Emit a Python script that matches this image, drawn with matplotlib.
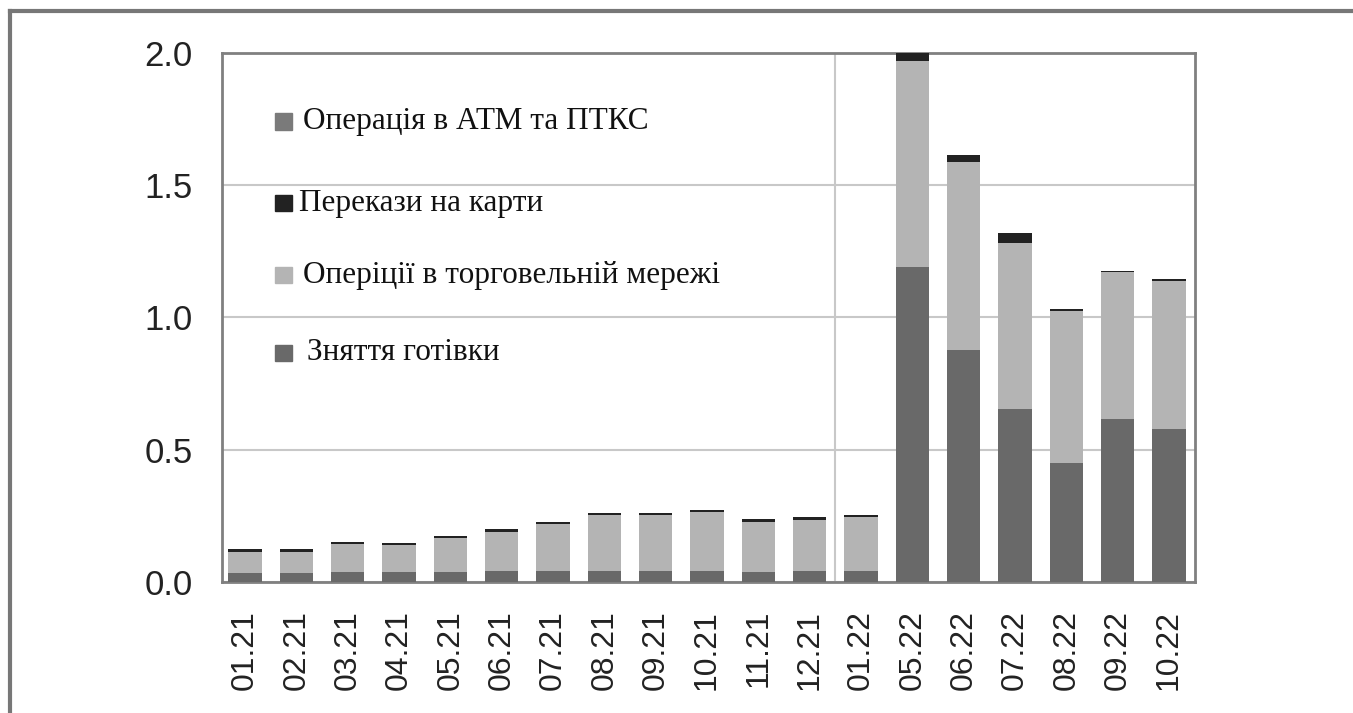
import matplotlib.pyplot as plt
from matplotlib.patches import Rectangle
from matplotlib.lines import Line2D
import numpy as np

months = ['01.21', '02.21', '03.21', '04.21', '05.21', '06.21', '07.21', '08.21', '09.21',
          '10.21', '11.21', '12.21', '01.22', '05.22', '06.22', '07.22', '08.22', '09.22', '10.22']

# values
cash = [0.034, 0.034, 0.037, 0.037, 0.037, 0.040, 0.040, 0.040, 0.040,
        0.042, 0.038, 0.040, 0.040, 1.19, 0.877, 0.653, 0.451, 0.615, 0.577]
trade = [0.081, 0.080, 0.106, 0.103, 0.128, 0.150, 0.179, 0.213, 0.213,
         0.221, 0.190, 0.196, 0.204, 0.78, 0.712, 0.630, 0.575, 0.557, 0.562]
transfers = [0.010, 0.010, 0.009, 0.009, 0.009, 0.009, 0.009, 0.009, 0.009,
             0.009, 0.009, 0.009, 0.008, 0.030, 0.025, 0.035, 0.005, 0.005, 0.005]
atm = [0.0] * 19

labels = ['Операція в АТМ та ПТКС', 'Перекази на карти',
          'Оперіції в торговельній мережі', 'Зняття готівки']
colors = ['#7a7a7a', '#222222', '#b4b4b4', '#696969']

fig = plt.figure(figsize=(13.53, 7.13), dpi=100)
ax = fig.add_axes([0.164, 0.1837, 0.719, 0.742])

x = np.arange(len(months))
w = 0.65
b1 = np.array(cash)
b2 = b1 + np.array(trade)
b3 = b2 + np.array(transfers)
ax.bar(x, cash, w, color=colors[3], zorder=3)
ax.bar(x, trade, w, bottom=b1, color=colors[2], zorder=3)
ax.bar(x, transfers, w, bottom=b2, color=colors[1], zorder=3)
ax.bar(x, atm, w, bottom=b3, color=colors[0], zorder=3)

ax.set_ylim(0, 2.0)
ax.set_xlim(-0.45, 18.5)
ax.set_yticks([0.0, 0.5, 1.0, 1.5, 2.0])
ax.set_yticklabels(['0.0', '0.5', '1.0', '1.5', '2.0'])
ax.set_xticks(x)
ax.set_xticklabels(months, rotation=90)
ax.tick_params(axis='y', length=0, pad=21, labelsize=25, colors='#222222')
ax.tick_params(axis='x', length=0, pad=20, labelsize=23, colors='#222222')
for lab in ax.get_xticklabels() + ax.get_yticklabels():
    lab.set_family('Liberation Sans')

ax.grid(axis='y', color='#c8c8c8', linewidth=1.5, zorder=0)
ax.axvline(11.5, color='#c8c8c8', linewidth=1.5, zorder=1)
for s in ax.spines.values():
    s.set_color('#808080')
    s.set_linewidth(2)

# legend drawn by hand, entries are not evenly spaced in the original
leg_y = [0.8696, 0.7164, 0.5803, 0.4329]
leg_tx = [0.083, 0.079, 0.083, 0.088]
for lab, col, yy, tx in zip(labels, colors, leg_y, leg_tx):
    ax.add_patch(Rectangle((0.0545, yy - 0.016), 0.0175, 0.032, transform=ax.transAxes,
                           color=col, zorder=5, clip_on=False))
    ax.text(tx, yy, lab, transform=ax.transAxes, va='center', ha='left',
            fontsize=22.5, family='Liberation Serif', color='#111111', zorder=5)

# outer frame (top and left only)
fig.add_artist(Line2D([10 / 1353, 1.0], [1 - 11 / 713, 1 - 11 / 713], color='#777777', linewidth=3))
fig.add_artist(Line2D([10 / 1353, 10 / 1353], [0.0, 1 - 11 / 713], color='#777777', linewidth=3))

fig.savefig('out.png', dpi=100)
